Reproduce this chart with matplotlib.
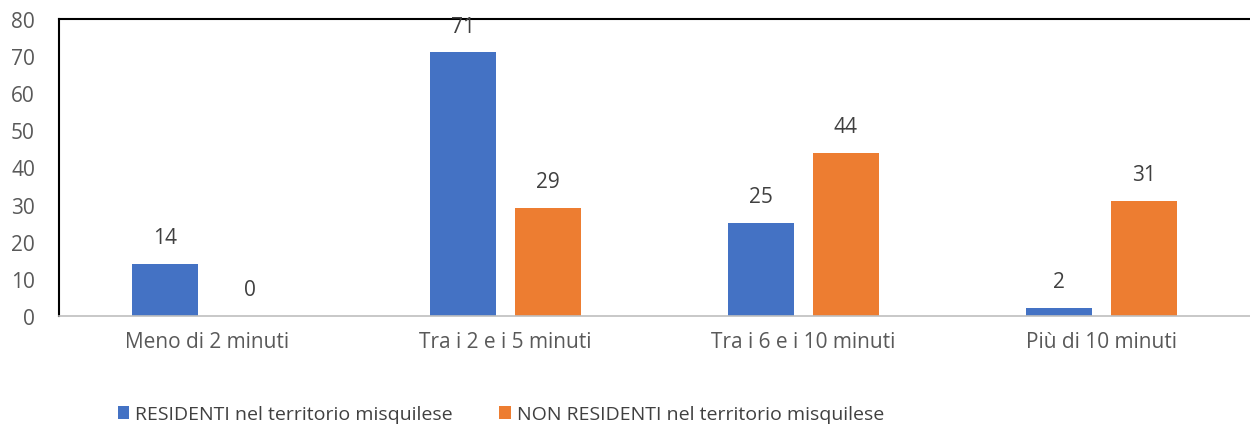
import matplotlib
matplotlib.use("Agg")
import matplotlib.pyplot as plt
import numpy as np

categorie = ["Meno di 2 minuti", "Tra i 2 e i 5 minuti", "Tra i 6 e i 10 minuti", "Più di 10 minuti"]
residenti = [14, 71, 25, 2]
non_residenti = [0, 29, 44, 31]
serie = ["RESIDENTI nel territorio misquilese", "NON RESIDENTI nel territorio misquilese"]

blu = "#4472C4"
arancio = "#ED7D31"

plt.rcParams['font.family'] = ['Open Sans', 'DejaVu Sans']

fig = plt.figure(figsize=(12.5, 4.27), dpi=100)
ax = fig.add_axes([0.0468, 0.258, 0.9536, 0.695])

x = np.arange(len(categorie))
w = 0.22
off = 0.142
b1 = ax.bar(x - off, residenti, w, color=blu, label=serie[0])
b2 = ax.bar(x + off, non_residenti, w, color=arancio, label=serie[1])

for bars, vals in [(b1, residenti), (b2, non_residenti)]:
    for r, v in zip(bars, vals):
        ax.text(r.get_x() + r.get_width() / 2, v + 4.3, str(v),
                ha='center', va='bottom', fontsize=15, color='#404040')

ax.set_xlim(-0.5, 3.5)
ax.set_ylim(0, 80)
ax.set_yticks(range(0, 81, 10))
ax.set_xticks(x)
ax.set_xticklabels(categorie)
ax.tick_params(axis='both', length=0, labelsize=15, colors='#595959')
ax.tick_params(axis='x', pad=11)
ax.tick_params(axis='y', pad=17)

for s in ['top', 'left']:
    ax.spines[s].set_color('black')
    ax.spines[s].set_linewidth(1.5)
ax.spines['right'].set_visible(False)
ax.spines['bottom'].set_color('#BFBFBF')
ax.spines['bottom'].set_linewidth(1.2)

fig.legend(loc='lower left', bbox_to_anchor=(0.08, -0.035), ncol=2, frameon=False,
           fontsize=14, labelcolor='#404040', handlelength=0.6, handleheight=0.6,
           handletextpad=0.3, columnspacing=2.4)

fig.savefig("out.png", dpi=100)
